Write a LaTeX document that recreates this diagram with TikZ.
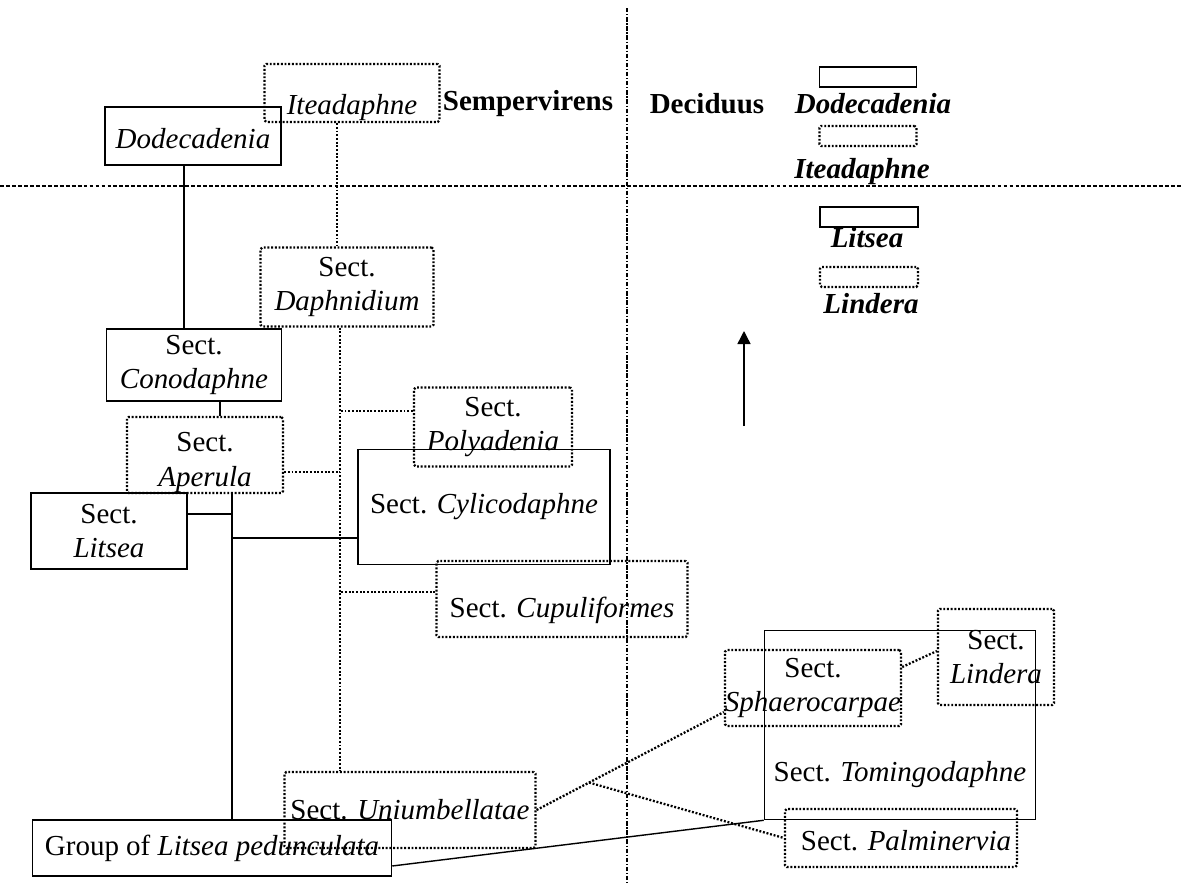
\documentclass[tikz,border=0pt]{standalone}
\usepackage{fontspec}
\setmainfont{Liberation Serif}
\usetikzlibrary{arrows.meta}

\begin{document}
\begin{tikzpicture}[x=0.02cm, y=-0.02cm, line width=0.8pt,
solid box/.style={draw,rectangle,line width=0.9pt,inner sep=0pt,align=center},
dotted box/.style={draw,rectangle,dash pattern=on 1.1pt off 1pt,line width=1.3pt,rounded corners=1pt,inner sep=0pt,align=center},
dot line/.style={dash pattern=on 1.1pt off 1pt,line width=1.3pt},
legend text/.style={font=\fontsize{16.5}{19.5}\selectfont\bfseries\itshape}]
\useasboundingbox (0,0) rectangle (1181,883);
% dividers
\draw[dash pattern=on 2.2pt off 1.2pt,line width=0.8pt] (0,186) -- (1181,186);
\draw[dash pattern=on 2.5pt off 1pt on 0.7pt off 1pt,line width=0.7pt] (627,8) -- (627,883);
\begin{scope}[every node/.style={font=\fontsize{16.5}{19.5}\selectfont}]
\node[solid box,minimum width=3.52cm,minimum height=1.16cm,text height=0.5cm,text depth=0.02cm] (dode) at (193,136) {\textit{Dodecadenia}};
\node[dotted box,minimum width=3.5cm,minimum height=1.16cm,text height=0.9cm,text depth=0.02cm] (itea) at (352,93) {\textit{Iteadaphne}};
\node[font=\fontsize{16.5}{19.5}\selectfont\bfseries] (semp) at (528,104) {Sempervirens};
\node[font=\fontsize{16.5}{19.5}\selectfont\bfseries] (deci) at (707,104) {Deciduus};
\node[solid box,minimum width=3.5cm,minimum height=1.44cm] (cono) at (194,365) {Sect.\\\textit{Conodaphne}};
\node[dotted box,minimum width=3.12cm,minimum height=1.52cm] (aper) at (205,455) {\rule{0pt}{0.68cm}Sect.\\\textit{Aperula}};
\node[solid box,minimum width=3.12cm,minimum height=1.52cm] (lits) at (109,531) {Sect.\\\textit{Litsea}};
\node[dotted box,minimum width=3.46cm,minimum height=1.58cm] (daph) at (347,287) {Sect.\\\textit{Daphnidium}};
\node[dotted box,minimum width=3.16cm,minimum height=1.58cm] (poly) at (493,427) {Sect.\\\textit{Polyadenia}};
\node[solid box,minimum width=5.04cm,minimum height=2.3cm] (cyli) at (484,507) {Sect. \textit{Cylicodaphne}};
\node[dotted box,minimum width=5.02cm,minimum height=1.52cm,text height=0.74cm,text depth=0.02cm] (cupu) at (562,599) {Sect. \textit{Cupuliformes}};
\node[dotted box,minimum width=5.02cm,minimum height=1.52cm] (uniu) at (410,810) {Sect. \textit{Uniumbellatae}};
\node[solid box,minimum width=7.18cm,minimum height=1.12cm] (group) at (212,848) {Group of \textit{Litsea pedunculata}};
\node[solid box,minimum width=5.42cm,minimum height=3.78cm,text height=2.38cm,text depth=0.1cm] (tomi) at (900,725) {Sect. \textit{Tomingodaphne}};
\node[dotted box,minimum width=3.48cm,minimum height=1.52cm] (sphae) at (813,688) {Sect.\\\textit{Sphaerocarpae}};
\node[dotted box,minimum width=2.32cm,minimum height=1.92cm] (lind) at (996,657) {Sect.\\\textit{Lindera}};
\node[dotted box,minimum width=4.64cm,minimum height=1.16cm,text height=0.5cm,text depth=0.02cm] (palm) at (901,838) {\hspace{0.2cm}Sect. \textit{Palminervia}};
% legend
\node[solid box,minimum width=1.94cm,minimum height=0.4cm] (lgdode) at (868,77) {};
\node[legend text] (txdode) at (873,104) {Dodecadenia};
\node[dotted box,minimum width=1.94cm,minimum height=0.4cm] (lgitea) at (868,136) {};
\node[legend text] (txitea) at (862,172) {Iteadaphne};
\node[solid box,minimum width=1.96cm,minimum height=0.4cm] (lglits) at (869,217) {};
\node[legend text] (txlits) at (867,238) {Litsea};
\node[dotted box,minimum width=1.96cm,minimum height=0.4cm] (lglind) at (869,277) {};
\node[legend text] (txlind) at (871,304) {Lindera};
\end{scope}
\begin{scope}
% solid lines
\draw ([xshift=-0.18cm]dode.south) edge ([xshift=-0.18cm]dode.south |- cono.north);
\draw ([xshift=0.52cm]cono.south) edge ([xshift=0.52cm]cono.south |- aper.north);
\draw ([xshift=0.54cm]aper.south) coordinate (tr) -- (tr |- group.north);
\draw ([yshift=0.34cm]lits.east) edge ([yshift=0.34cm]lits.east -| tr);
\draw ([yshift=-0.62cm]cyli.west) edge ([yshift=-0.62cm]cyli.west -| tr);
\draw ([yshift=-0.36cm]group.east) edge (tomi.south west);
% dotted lines
\draw[dot line] ([xshift=-0.3cm]itea.south) edge ([xshift=-0.3cm]itea.south |- daph.north);
\draw[dot line] ([xshift=-0.14cm]daph.south) coordinate (dtr) -- (dtr |- uniu.north);
\draw[dot line] ([yshift=0.32cm]poly.west) edge ([yshift=0.32cm]poly.west -| dtr);
\draw[dot line] ([yshift=-0.34cm]aper.east) edge ([yshift=-0.34cm]aper.east -| dtr);
\draw[dot line] ([yshift=0.14cm]cupu.west) edge ([yshift=0.14cm]cupu.west -| dtr);
\draw[dot line] (uniu.east) -- coordinate[pos=0.28] (fork) ([yshift=-0.48cm]sphae.west);
\draw[dot line] (fork) edge (palm.west);
\draw[dot line] ([yshift=0.42cm]sphae.east) edge ([yshift=0.12cm]lind.west);
% arrow
\coordinate (arrbot) at (744,426);
\coordinate (arrtop) at (744,331);
\draw[-{Triangle[width=0.26cm,length=0.26cm]}] (arrbot) -- (arrtop);
\end{scope}
\end{tikzpicture}
\end{document}
